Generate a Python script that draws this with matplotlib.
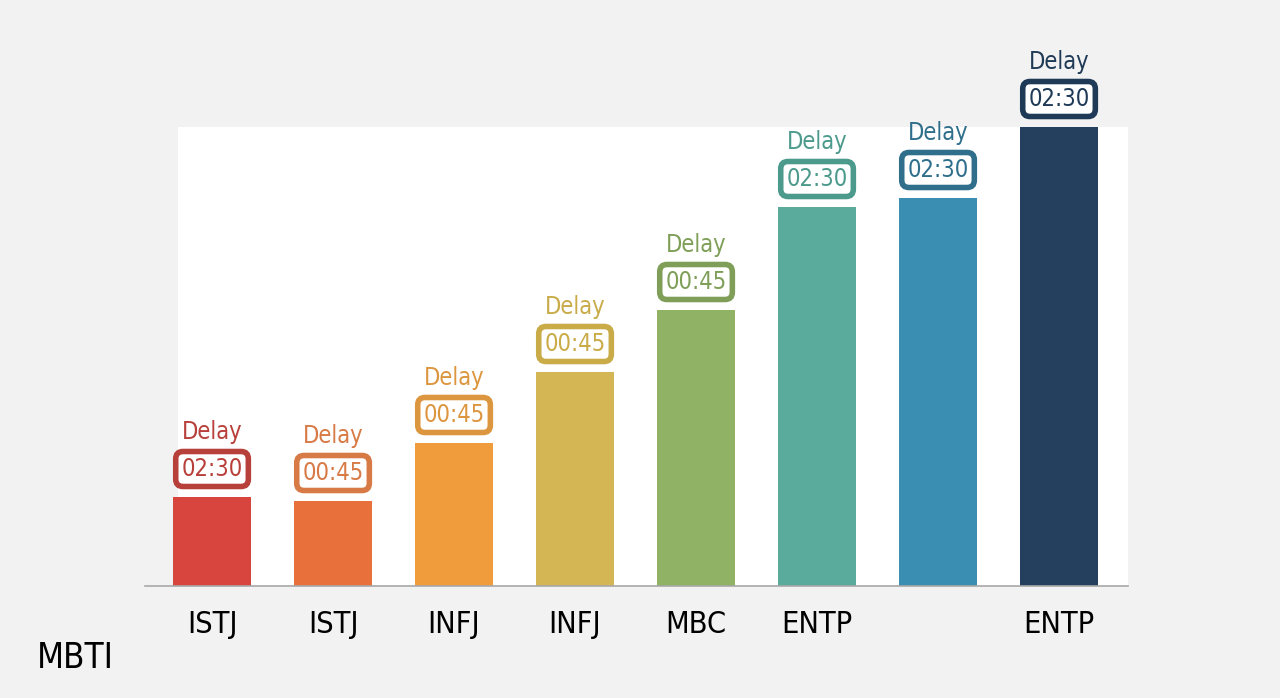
import matplotlib
matplotlib.use("Agg")
from matplotlib import pyplot as plt
from matplotlib.patches import Rectangle, FancyBboxPatch
import numpy as np

# data (bar heights in pixel-ish units)
labels = ["ISTJ", "ISTJ", "INFJ", "INFJ", "MBC", "ENTP", "", "ENTP"]
values = [89, 85, 143, 214, 276, 379, 388, 459]
delays = ["02:30", "00:45", "00:45", "00:45", "00:45", "02:30", "02:30", "02:30"]
bar_colors = ["#d8453e", "#e8703b", "#f09c3c", "#d5b654", "#8fb264",
              "#5aab9b", "#3a8eb1", "#24405e"]
text_colors = ["#b8403b", "#d77a45", "#dc963f", "#c9ab48", "#7f9f58",
               "#4c9a8c", "#2f6f8c", "#1f3a56"]

plt.rcParams['font.family'] = ['DejaVu Sans']
plt.rcParams['font.stretch'] = 'condensed'

def main():
    fig = plt.figure(figsize=(12.8, 6.98), dpi=100)
    fig.patch.set_facecolor("#f2f2f2")
    ax = fig.add_axes([145/1280, 112/698, 983/1280, 459/698])
    ax.set_facecolor("none")

    # white panel behind the bars
    ax.add_patch(Rectangle(((178-145)/983, 0), 1 - (178-145)/983, 1,
                           transform=ax.transAxes, facecolor="white",
                           edgecolor="none", zorder=0))

    x = np.arange(len(values))
    w = 0.645
    ax.bar(x, values, width=w, color=bar_colors, zorder=2)
    ax.set_xlim(-0.554, 7.57)
    ax.set_ylim(0, 459)

    for xi, v, d, c in zip(x, values, delays, text_colors):
        bw, bh = 0.6, 35
        box = FancyBboxPatch((xi - bw/2, v + 28 - bh/2), bw, bh,
                             boxstyle="round,pad=0,rounding_size=0.06",
                             mutation_aspect=121, facecolor="white",
                             edgecolor=c, linewidth=4, clip_on=False, zorder=3)
        ax.add_patch(box)
        ax.text(xi, v + 28, d, ha="center", va="center", fontsize=17,
                color=c, zorder=4, clip_on=False)
        ax.text(xi, v + 65, "Delay", ha="center", va="center", fontsize=17,
                color=c, zorder=4, clip_on=False)

    for s in ["top", "right", "left"]:
        ax.spines[s].set_visible(False)
    ax.spines["bottom"].set_color("#a8a8a8")
    ax.spines["bottom"].set_linewidth(1.2)
    ax.set_yticks([])
    ax.set_xticks(x)
    ax.set_xticklabels(labels, fontsize=22)
    ax.tick_params(axis="x", length=0, pad=17)

    fig.text(37/1280, 1 - 658/698, "MBTI", fontsize=25, va="center", ha="left")

    fig.savefig("out.png", dpi=100, facecolor=fig.get_facecolor())

if __name__ == '__main__':
    main()
